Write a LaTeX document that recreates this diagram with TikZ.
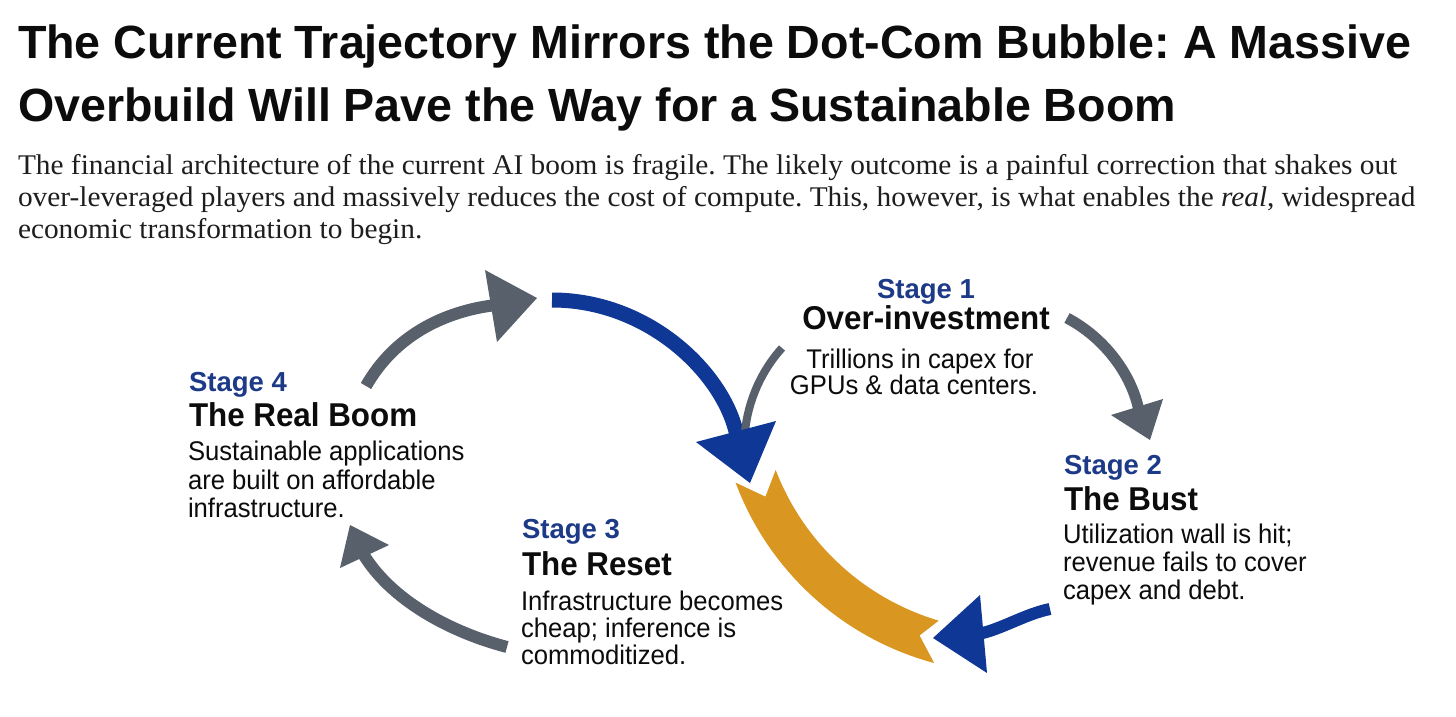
\documentclass[tikz,border=0pt]{standalone}
\usepackage{fontspec}
\setmainfont[FakeStretch=1.03]{Liberation Serif}
\newfontfamily\titlefont{Liberation Sans}
\newfontfamily\headfont[FakeStretch=0.95]{Liberation Sans}
\newfontfamily\bodyfont[FakeStretch=0.95]{Liberation Sans}
\usetikzlibrary{calc}
\frenchspacing
\definecolor{inkblack}{RGB}{12,12,12}
\definecolor{inkgray}{RGB}{30,30,30}
\definecolor{stageblue}{RGB}{28,58,135}
\definecolor{arrowblue}{RGB}{14,55,150}
\definecolor{arrowgrey}{RGB}{88,96,108}
\definecolor{ribbon}{RGB}{217,150,32}
\tikzset{
  txtbase/.style={inner sep=0pt, outer sep=0pt},
  ttl/.style={txtbase, anchor=base west, font=\titlefont\bfseries\fontsize{46.6}{50}\selectfont, text=inkblack},
  para/.style={txtbase, anchor=base west, font=\fontsize{28.5}{32}\selectfont, text=inkgray},
  stlab/.style={txtbase, font=\titlefont\bfseries\fontsize{27.5}{30}\selectfont, text=stageblue},
  sthead/.style={txtbase, font=\headfont\bfseries\fontsize{33}{36}\selectfont, text=inkblack},
  stbody/.style={txtbase, font=\bodyfont\fontsize{27}{30}\selectfont, text=inkblack},
  greyshaft/.style={draw=arrowgrey, line width=#1, line cap=butt},
  blueshaft/.style={draw=arrowblue, line width=#1, line cap=butt},
}
\begin{document}
\begin{tikzpicture}[x=1pt,y=1pt,yscale=-1]
\fill[white] (0,0) rectangle (1456,716);
\useasboundingbox (0,0) rectangle (1456,716);

% Title
\node[ttl] (t1) at (18,58) {The Current Trajectory Mirrors the Dot-Com Bubble: A Massive};
\node[ttl] (t2) at (18,121) {Overbuild Will Pave the Way for a Sustainable Boom};

% Intro paragraph
\node[para] (p1) at (18,174) {The financial architecture of the current AI boom is fragile. The likely outcome is a painful correction that shakes out};
\node[para] (p2) at (18,206) {over-leveraged players and massively reduces the cost of compute. This, however, is what enables the \textit{real}, widespread};
\node[para] (p3) at (18,238) {economic transformation to begin.};

% Stage 1
\node[stlab, anchor=base] (s1l) at (926,298) {Stage 1};
\node[sthead, anchor=base] (s1h) at (926,329) {Over-investment};
\node[stbody, anchor=base] (s1b1) at (920,368) {Trillions in capex for};
\node[stbody, anchor=base] (s1b2) at (914,394) {GPUs \& data centers.};

% Stage 2
\node[stlab, anchor=base west] (s2l) at (1064,474) {Stage 2};
\node[sthead, anchor=base west] (s2h) at (1064,510) {The Bust};
\node[stbody, anchor=base west] (s2b1) at (1063,543) {Utilization wall is hit;};
\node[stbody, anchor=base west] (s2b2) at (1063,571) {revenue fails to cover};
\node[stbody, anchor=base west] (s2b3) at (1063,599) {capex and debt.};

% Stage 3
\node[stlab, anchor=base west] (s3l) at (522,538) {Stage 3};
\node[sthead, anchor=base west] (s3h) at (522,575) {The Reset};
\node[stbody, anchor=base west] (s3b1) at (521,610) {Infrastructure becomes};
\node[stbody, anchor=base west] (s3b2) at (521,637) {cheap; inference is};
\node[stbody, anchor=base west] (s3b3) at (521,664) {commoditized.};

% Stage 4
\node[stlab, anchor=base west] (s4l) at (189,391) {Stage 4};
\node[sthead, anchor=base west] (s4h) at (189,426) {The Real Boom};
\node[stbody, anchor=base west] (s4b1) at (188,460) {Sustainable applications};
\node[stbody, anchor=base west] (s4b2) at (188,489) {are built on affordable};
\node[stbody, anchor=base west] (s4b3) at (188,517) {infrastructure.};

% ---------- arrows ----------
% Stage 4 -> top (grey)
\coordinate (aT) at (366,386);
\coordinate (aE) at (496,305);
\coordinate (aL) at (485,270);
\coordinate (aR) at (497,342);
\coordinate (aP) at (537,298);
\draw[greyshaft=12pt] (aT) .. controls (395,335) and (445,311) .. (aE);
\fill[arrowgrey] (aL) -- (aP) -- (aR) -- cycle;

% big blue arrow (top)
\coordinate (bT) at (552,300);
\coordinate (bE) at (737,436);
\coordinate (bL) at (696,442);
\coordinate (bR) at (776,421);
\coordinate (bP) at (750,483);
\draw[blueshaft=15pt] (bT) .. controls (650,300) and (725,375) .. (bE);

% grey pointer from Stage 1 text
\coordinate (cT) at (782,348);
\coordinate (cE) at (745,432);
\draw[greyshaft=8pt] (cT) .. controls (762,370) and (748,400) .. (cE);
\fill[arrowblue] (bL) -- (bP) -- (bR) -- cycle;

% Stage 1 -> Stage 2 (grey)
\coordinate (dT) at (1067,318);
\coordinate (dE) at (1139,411);
\coordinate (dL) at (1111,415);
\coordinate (dR) at (1163,399);
\coordinate (dP) at (1150,440);
\draw[greyshaft=11pt] (dT) .. controls (1105,338) and (1132,375) .. (dE);
\fill[arrowgrey] (dL) -- (dP) -- (dR) -- cycle;

% orange ribbon (Stage 2 -> Stage 3 band)
\coordinate (fC) at (1010,380);
\fill[ribbon] ($(fC)+(159.5:293pt)$) arc[start angle=159.5, end angle=105, radius=293pt]
  -- ($(fC)+(109.5:271pt)$) -- ($(fC)+(106.5:251pt)$)
  arc[start angle=106.5, end angle=159, radius=251pt]
  -- ($(fC)+(154.5:271pt)$) -- cycle;

% blue arrow (bottom right)
\coordinate (eT) at (1050,609);
\coordinate (eE) at (978,634);
\coordinate (eL) at (980,595);
\coordinate (eR) at (987,673);
\coordinate (eP) at (933,638);
\draw[blueshaft=12pt] (eT) .. controls (1025,614) and (1000,630) .. (eE);
\fill[arrowblue] (eL) -- (eP) -- (eR) -- cycle;

% Stage 3 -> Stage 4 (grey)
\coordinate (gT) at (507,647);
\coordinate (gE) at (362,552);
\coordinate (gL) at (340,568);
\coordinate (gR) at (389,545);
\coordinate (gP) at (350,525);
\draw[greyshaft=12pt] (gT) .. controls (450,632) and (390,600) .. (gE);
\fill[arrowgrey] (gL) -- (gP) -- (gR) -- cycle;
\end{tikzpicture}
\end{document}
